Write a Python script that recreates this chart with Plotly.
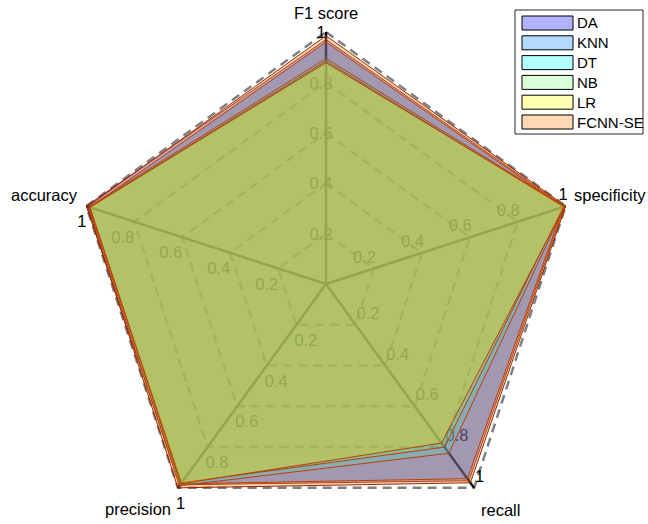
import math
import plotly.graph_objects as go

# ---- data -------------------------------------------------------------
metrics = ["F1 score", "specificity", "recall", "precision", "accuracy"]
models = ["DA", "KNN", "DT", "NB", "LR", "FCNN-SE"]

da = [0.970, 0.995, 0.965, 0.985, 1.000]
knn = [0.960, 0.990, 0.955, 0.980, 0.985]
dt = [0.895, 0.995, 0.830, 0.990, 0.990]
nb = [0.885, 0.990, 0.800, 0.975, 0.985]
lr = [0.878, 0.995, 0.780, 0.980, 0.985]
fcnn_se = [0.985, 1.000, 0.975, 1.000, 0.995]

grid_levels = [0.2, 0.4, 0.6, 0.8, 1.0]
tick_labels = ["0.2", "0.4", "0.6", "0.8", "1"]

# ---- styling ----------------------------------------------------------
series = [da, knn, dt, nb, lr, fcnn_se]
base_colors = [(0, 0, 255), (0, 128, 255), (0, 255, 255),
               (128, 255, 128), (255, 255, 0), (255, 128, 0)]
ALPHA = 0.3
EDGE = "rgb(150,38,8)"
FONT = "Liberation Sans, Arial, Helvetica, sans-serif"
FS = 16.5
FS_LEG = 15

W, H = 648, 524
CX, CY, RPX = 326, 284, 252  # centre and unit radius in pixels

n = len(metrics)
theta = [math.pi / 2 - 2 * math.pi * k / n for k in range(n)]


def pt(r, k, dx=0.0, dy=0.0):
    """Point at radius r on spoke k, shifted by (dx, dy) screen pixels."""
    return (r * math.cos(theta[k]) + dx / RPX,
            r * math.sin(theta[k]) - dy / RPX)


fig = go.Figure()

# dashed pentagon grid
for lvl in grid_levels:
    pts = [pt(lvl, k) for k in range(n)] + [pt(lvl, 0)]
    fig.add_trace(go.Scatter(
        x=[p[0] for p in pts], y=[p[1] for p in pts], mode="lines",
        line=dict(color="rgb(128,128,128)", width=2.5, dash="9px,6px"),
        hoverinfo="skip", showlegend=False))

# spokes
for k in range(n):
    p = pt(1.0, k)
    fig.add_trace(go.Scatter(
        x=[0, p[0]], y=[0, p[1]], mode="lines",
        line=dict(color="black", width=2.5),
        hoverinfo="skip", showlegend=False))

# tick labels along every spoke (drawn beneath the filled areas)
tick_place = [
    ("middle center", -5, 2),
    ("middle left", 2, -10),
    ("middle right", 1, -10),
    ("middle right", -2, 17),
    ("middle left", 0, 17),
]
for k in range(n):
    pos, dx, dy = tick_place[k]
    pts = [pt(lvl, k, dx, dy) for lvl in grid_levels]
    fig.add_trace(go.Scatter(
        x=[p[0] for p in pts], y=[p[1] for p in pts], mode="text",
        text=tick_labels, textposition=pos,
        textfont=dict(family=FONT, size=FS, color="black"),
        hoverinfo="skip", showlegend=False))

# filled model polygons
for name, vals, c in zip(models, series, base_colors):
    pts = [pt(v, k) for k, v in enumerate(vals)] + [pt(vals[0], 0)]
    fig.add_trace(go.Scatter(
        x=[p[0] for p in pts], y=[p[1] for p in pts], mode="lines",
        fill="toself", fillcolor=f"rgba({c[0]},{c[1]},{c[2]},{ALPHA})",
        line=dict(color=EDGE, width=1), name=name, showlegend=False))

# axis titles
title_place = [
    (0, -19, "center"),
    (6, -11, "left"),
    (5, 22, "left"),
    (-5, 21, "right"),
    (-6, -11, "right"),
]
for k, (dx, dy, anchor) in enumerate(title_place):
    x, y = pt(1.0, k, dx, dy)
    fig.add_annotation(x=x, y=y, text=metrics[k], showarrow=False,
                       xanchor=anchor, yanchor="middle",
                       font=dict(family=FONT, size=FS, color="black"))

# legend box
def px(x, y):
    return x / W, 1 - y / H


x0, y0 = px(515, 10)
x1, y1 = px(643, 134)
fig.add_shape(type="rect", xref="paper", yref="paper", x0=x0, y0=y0, x1=x1, y1=y1,
              fillcolor="white", line=dict(color="rgb(40,40,40)", width=1), layer="above")
for i, (name, c) in enumerate(zip(models, base_colors)):
    yc = 23 + 19.8 * i
    lc = tuple(round(255 * (1 - ALPHA) + ALPHA * ch) for ch in c)
    a0, b0 = px(522, yc - 7)
    a1, b1 = px(573, yc + 7)
    fig.add_shape(type="rect", xref="paper", yref="paper", x0=a0, y0=b0, x1=a1, y1=b1,
                  fillcolor=f"rgb{lc}", line=dict(color="black", width=1), layer="above")
    tx, ty = px(575, yc)
    fig.add_annotation(xref="paper", yref="paper", x=tx, y=ty, text=name,
                       showarrow=False, xanchor="left", yanchor="middle",
                       font=dict(family=FONT, size=FS_LEG, color="black"))

fig.update_layout(
    width=W, height=H, margin=dict(l=0, r=0, t=0, b=0),
    paper_bgcolor="white", plot_bgcolor="white", showlegend=False,
    xaxis=dict(range=[-CX / RPX, (W - CX) / RPX], visible=False, fixedrange=True),
    yaxis=dict(range=[-(H - CY) / RPX, CY / RPX], visible=False, fixedrange=True),
)

fig.write_html("out.html")
